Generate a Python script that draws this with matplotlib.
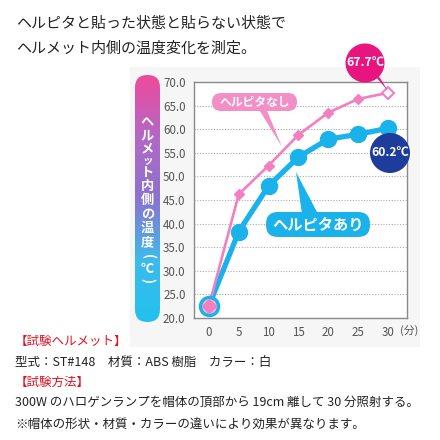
import numpy as np
import matplotlib
matplotlib.use("Agg")
import matplotlib.pyplot as plt
from matplotlib.patches import FancyBboxPatch, Circle, Polygon
from matplotlib.colors import LinearSegmentedColormap

plt.rcParams['font.family'] = ['Noto Sans CJK JP', 'DejaVu Sans']

# data
minutes = [0, 5, 10, 15, 20, 25, 30]
temp_without = [22.5, 46.2, 52.3, 58.8, 63.5, 66.4, 67.7]   # ヘルピタなし
temp_with = [22.6, 38.3, 48.0, 54.1, 57.9, 58.9, 60.2]      # ヘルピタあり
y_ticks = [20, 25, 30, 35, 40, 45, 50, 55, 60, 65, 70]
x_ticks = [0, 5, 10, 15, 20, 25, 30]

title_lines = ["ヘルピタと貼った状態と貼らない状態で", "ヘルメット内側の温度変化を測定。"]
ylabel_chars = list("ヘルメット内側の温度") + ["(", "℃", ")"]
notes = [
    ("【試験ヘルメット】", "#e60f1e"),
    ("型式：ST#148　材質：ABS 樹脂　カラー：白", "#222222"),
    ("【試験方法】", "#e60f1e"),
    ("300W のハロゲンランプを帽体の頂部から 19cm 離して 30 分照射する。", "#222222"),
    ("※帽体の形状・材質・カラーの違いにより効果が異なります。", "#222222"),
]

pink = "#f47fc0"
pink_label = "#f28fc7"
magenta = "#e8157f"
blue = "#1ab2ea"
navy = "#1d3c9b"

fig = plt.figure(figsize=(4.4, 4.4), dpi=100)
fig.patch.set_facecolor("white")

# overlay in pixel coords (y down) for decorations
deco = fig.add_axes([0, 0, 1, 1], zorder=0)
deco.set_xlim(0, 440)
deco.set_ylim(440, 0)
deco.axis("off")
deco.add_patch(plt.Rectangle((130, 67), 290, 280, color="#f6f6f6", lw=0))

ax = fig.add_axes([194 / 440, 1 - 318 / 440, 213 / 440, 236 / 440], zorder=2)
ax.set_facecolor("white")
ax.set_xlim(-2.5, 33.2)
ax.set_ylim(20, 70)
ax.set_yticks(y_ticks)
ax.set_yticklabels([f"{v:.1f}" for v in y_ticks])
ax.set_xticks(x_ticks)
ax.tick_params(length=0, colors="#555555", labelsize=8.3, pad=6)
for s in ax.spines.values():
    s.set_color("#8a8a8a")
    s.set_linewidth(1.0)
ax.grid(axis="y", color="#aaaaaa", linestyle=(0, (1, 1.5)), linewidth=0.8)
ax.set_axisbelow(True)
ax.annotate("(分)", xy=(30, 20), xytext=(9, -6), textcoords="offset points",
            ha="left", va="top", fontsize=7.8, color="#555555", annotation_clip=False)

ax.plot(minutes, temp_with, color=blue, lw=3.8, marker="o", ms=11.5,
        mfc=blue, mec=blue, zorder=3, clip_on=False)
ax.plot(minutes, temp_without, color=pink, lw=1.9, marker="D", ms=5.5,
        mfc=pink, mec=pink, zorder=4, clip_on=False)
ax.plot(minutes[0], temp_with[0], marker="o", ms=13, mfc="#f7b5d9", mec=blue, mew=2.5,
        zorder=4.5, clip_on=False)
ax.plot(minutes[0], temp_without[0], marker="D", ms=7.5, color=pink, zorder=5, clip_on=False)
ax.plot(minutes[-1], temp_without[-1], marker="D", ms=6, mfc="white", mec=pink, mew=1.5,
        zorder=5, clip_on=False)

top = fig.add_axes([0, 0, 1, 1], zorder=5)
top.set_xlim(0, 440)
top.set_ylim(440, 0)
top.axis("off")


def to_px(x, y):
    dx, dy = ax.transData.transform((x, y))
    return dx, 440 - dy


# y label gradient bar
grad = LinearSegmentedColormap.from_list("g", ["#ef4a9c", "#b268c6", "#8c72d0", "#3cbbec", "#22c2ee"])
bar = FancyBboxPatch((135, 75), 25, 247, boxstyle="round,pad=0,rounding_size=12.5",
                     lw=0, facecolor="none")
top.add_patch(bar)
im = top.imshow(np.linspace(0, 1, 256).reshape(-1, 1), cmap=grad, aspect="auto",
                extent=(135, 160, 322, 75))
im.set_clip_path(bar)
ys = [121, 135, 149, 161, 173, 186, 200, 214, 228, 242, 257, 269, 281]
for ch, yy in zip(ylabel_chars, ys):
    size = 7.5 if ch == "ッ" else 9.5
    rot = -90 if ch in "()" else 0
    top.text(147.5, yy, ch, ha="center", va="center", color="white",
             fontsize=size, fontweight="bold", rotation=rot)

# callout bubbles
px, py = to_px(minutes[-1], temp_without[-1])
top.add_patch(Polygon([(370, 70), (380, 78), (px, py - 2)], closed=True, color=magenta, lw=0))
top.add_patch(Circle((365, 63), 19.5, color=magenta, lw=0))
top.text(365, 63, "67.7℃", ha="center", va="center", color="white", fontsize=8.8,
         fontweight="bold")

px, py = to_px(minutes[-1], temp_with[-1])
top.add_patch(Polygon([(384, 140), (393, 140), (px, py + 4)], closed=True, color=navy, lw=0))
top.add_patch(Circle((390, 153), 20, color=navy, lw=0))
top.text(390, 153, "60.2℃", ha="center", va="center", color="white", fontsize=8.8,
         fontweight="bold")

# series labels
top.add_patch(Polygon([(258, 108), (266, 108), (282, 147)], closed=True, color=pink_label, lw=0))
top.add_patch(FancyBboxPatch((212, 93), 85, 18, boxstyle="round,pad=0,rounding_size=9",
                             color=pink_label, lw=0))
top.text(254.5, 102.5, "ヘルピタなし", ha="center", va="center", color="white",
         fontsize=8.5, fontweight="bold")

top.add_patch(Polygon([(296, 172), (302, 214), (318, 214)], closed=True, color=blue, lw=0))
top.add_patch(FancyBboxPatch((266, 212), 104, 25, boxstyle="round,pad=0,rounding_size=12",
                             color=blue, lw=0))
top.text(318, 224.5, "ヘルピタあり", ha="center", va="center", color="white",
         fontsize=11, fontweight="bold")

# title and notes
for i, line in enumerate(title_lines):
    top.text(16, 24 + i * 25, line, ha="left", va="center", fontsize=10.8, color="#222222")

note_y = [341, 362, 382, 402, 424]
for (txt, col), yy in zip(notes, note_y):
    top.text(15, yy, txt, ha="left", va="center", fontsize=9.0, color=col)

fig.savefig("out.png", dpi=100)
